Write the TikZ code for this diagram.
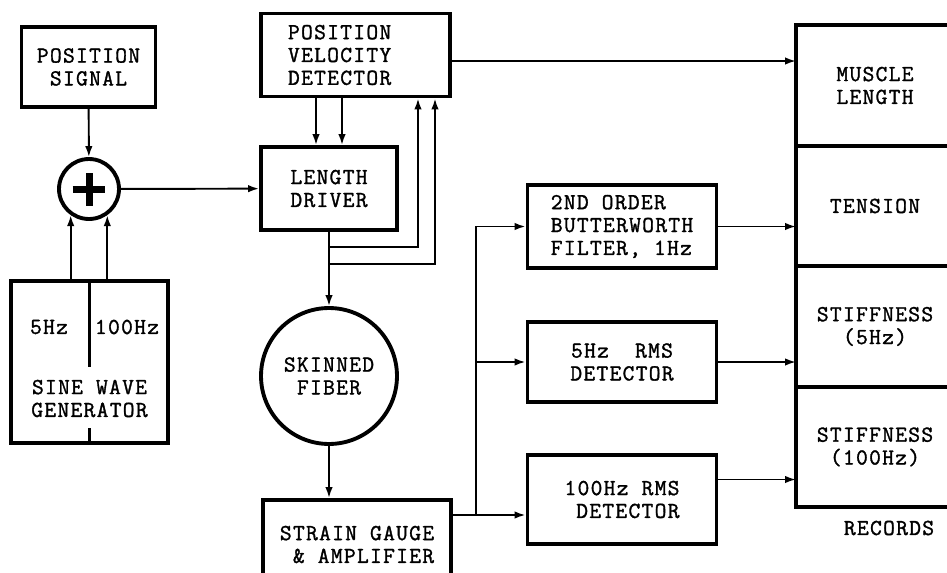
\documentclass[tikz,border=0pt]{standalone}
\usepackage{fontspec}
\setmonofont[LetterSpace=5.7,FakeBold=1.4]{Latin Modern Mono}
\usetikzlibrary{arrows.meta,positioning}

\begin{document}
\begin{tikzpicture}[
  x=0.02cm,y=-0.02cm,
  every node/.style={font=\ttfamily\fontsize{13}{13}\selectfont,align=center},
  box/.style={draw,line width=2.2pt,minimum width=3.78cm,minimum height=1.66cm,inner sep=0pt},
  roundbox/.style={draw,circle,line width=2.2pt,inner sep=0pt},
  cell/.style={draw,line width=2.2pt,outer sep=0pt,minimum width=3.16cm,minimum height=2.41cm},
  arr/.style={-{Latex[length=2.2mm,width=1.5mm]},line width=1.1pt},
  wire/.style={line width=1.1pt}
]
  \useasboundingbox (0,0) rectangle (947,572);
  \clip (0,0) rectangle (947,572);

  \node[box,minimum width=2.68cm,minimum height=1.6cm] (possig) at (88.5,67) {POSITION\\SIGNAL};
  \node[roundbox,minimum size=1.2cm] (sum) at (89,189) {};
  \node[box,minimum width=3.14cm,minimum height=3.24cm] (sine) at (89.5,362) {};
  \node (f5) at (49,327) {5Hz};
  \node (f100) at (127,327) {100Hz};
  \node (sinelbl) at (89.5,398.5) {SINE WAVE\\GENERATOR};

  \node[box,align=left,text width=2.7cm,inner xsep=0.54cm] (pvd) at (355.5,55) {POSITION\\VELOCITY\\DETECTOR};
  \node[box,minimum width=2.72cm] (ld) at (329,188.5) {LENGTH\\DRIVER};
  \node[roundbox,minimum size=2.72cm] (fiber) at (329,376) {SKINNED\\FIBER};
  \node[box,minimum width=3.76cm,minimum height=1.78cm,align=right] (sg) at (357,544.5) {STRAIN GAUGE\\\& AMPLIFIER};

  \node[box,align=left] (filt) at (622,226.5) {2ND ORDER\\BUTTERWORTH\\FILTER, 1Hz};
  \node[box,minimum height=1.6cm] (rms5) at (622,362) {5Hz~~RMS\\DETECTOR};
  \node[box,minimum height=1.78cm,align=right] (rms100) at (622,499.5) {100Hz RMS\\DETECTOR};

  \node[cell] (rlen) at (875,85.5) {MUSCLE\\LENGTH};
  \node[cell,below=0pt of rlen] (rten) {TENSION};
  \node[cell,below=0pt of rten] (rst5) {STIFFNESS\\(5Hz)};
  \node[cell,below=0pt of rst5] (rst100) {STIFFNESS\\(100Hz)};
  \node (reclbl) at (889,528) {RECORDS};

  \draw[line width=2.2pt] (sine.north) -- (89.5,367);
  \draw[line width=2.2pt] (sine.south) -- (89.5,428);
  \draw[line width=0.14cm] ([xshift=-0.33cm]sum.center) -- ([xshift=0.33cm]sum.center);
  \draw[line width=0.14cm] ([yshift=-0.33cm]sum.center) -- ([yshift=0.33cm]sum.center);

  \coordinate (tap1) at (329,247);
  \coordinate (tap2) at (329,264);
  \coordinate (split) at (476,515);

  \draw[arr] (possig) -- (sum);
  \draw[arr] (sum.235 |- sine.north) -- (sum.235);
  \draw[arr] (sum.305 |- sine.north) -- (sum.305);
  \draw[arr] (sum) -- (ld);
  \draw[arr] ([xshift=-0.26cm]ld.north |- pvd.south) -- ([xshift=-0.26cm]ld.north);
  \draw[arr] ([xshift=0.26cm]ld.north |- pvd.south) -- ([xshift=0.26cm]ld.north);
  \draw[arr] ([yshift=-0.12cm]pvd.east) -- ([yshift=-0.12cm]pvd.east -| rlen.west);
  \draw[arr] (ld) -- (fiber);
  \draw[arr] (tap1) -| ([xshift=1.25cm]pvd.south);
  \draw[arr] (tap2) -| ([xshift=1.59cm]pvd.south);
  \draw[arr] (fiber) -- (fiber |- sg.north);
  \draw[arr] (sg.east |- split) -- (rms100.west |- split);
  \draw[arr] (split) |- (filt.west);
  \draw[arr] (split |- rms5.west) -- (rms5.west);
  \draw[arr] (filt) -- (filt -| rten.west);
  \draw[arr] (rms5) -- (rms5 -| rst5.west);
  \draw[arr] ([yshift=0.4cm]rms100.east) -- ([yshift=0.4cm]rms100.east -| rst100.west);
\end{tikzpicture}
\end{document}
